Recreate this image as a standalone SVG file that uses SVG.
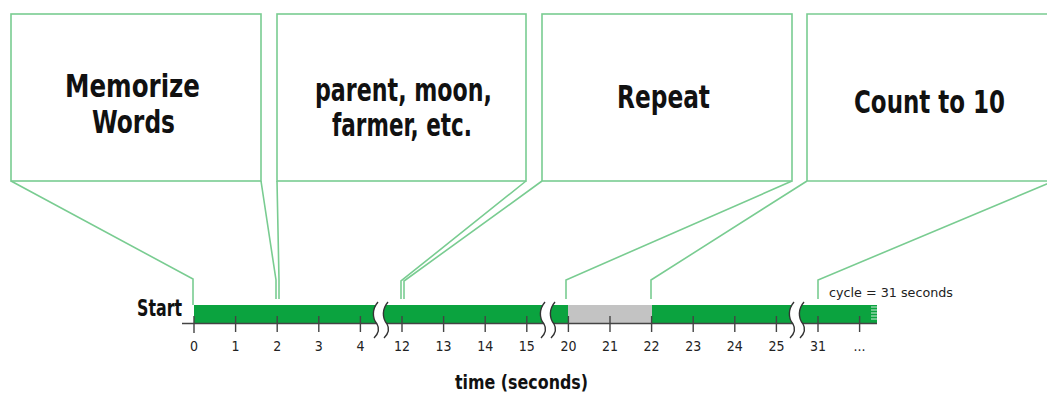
<svg xmlns="http://www.w3.org/2000/svg" width="1047" height="396" viewBox="0 0 1047 396">
<style>
.box{fill:#fff;stroke:#79cc91;stroke-width:1.6}
.co{fill:none;stroke:#79cc91;stroke-width:1.6;stroke-linejoin:miter}
.title{font-family:"Liberation Sans Narrow","DejaVu Sans Condensed","Liberation Sans",sans-serif;font-weight:bold;font-size:32px;fill:#111;text-anchor:start}
.num{font-family:"Liberation Sans Narrow","DejaVu Sans Condensed","Liberation Sans",sans-serif;font-size:14px;fill:#222;text-anchor:middle}
.tick{stroke:#444;stroke-width:1.4}
.brk{fill:none;stroke:#333;stroke-width:1.4}
</style>
<defs>
<g id="break">
<path d="M -2 302 C -8 309 -8 318 -3 324 C 0 329 -2 334 -6 338 L 4 338 C 8 334 10 329 7 324 C 2 318 2 309 8 302 Z" fill="#fff"/>
<path class="brk" d="M -2 302 C -8 309 -8 318 -3 324 C 0 329 -2 334 -6 338"/>
<path class="brk" d="M 8 302 C 2 309 2 318 7 324 C 10 329 8 334 4 338"/>
</g>
</defs>

<g id="connectors">
<polyline class="co" points="11,181 193,279 193,305"/>
<polyline class="co" points="261,181 276,280 276,299"/>
<polyline class="co" points="277,181 279,280 279,299"/>
<polyline class="co" points="526,181 401,281 401,299"/>
<polyline class="co" points="542,181 404,281 404,299"/>
<polyline class="co" points="792,181 566,280 566,299"/>
<polyline class="co" points="807,181 651,280 651,299"/>
<polyline class="co" points="1054,181 818,280 818,299"/>
</g>

<g id="box1">
<rect class="box" x="11" y="14" width="250" height="167"/>
<text class="title" x="65" y="97" textLength="135" lengthAdjust="spacingAndGlyphs">Memorize</text>
<text class="title" x="92" y="133" textLength="83" lengthAdjust="spacingAndGlyphs">Words</text>
</g>
<g id="box2">
<rect class="box" x="277" y="14" width="249" height="167"/>
<text class="title" x="315" y="101" textLength="177" lengthAdjust="spacingAndGlyphs">parent, moon,</text>
<text class="title" x="332" y="136" textLength="140" lengthAdjust="spacingAndGlyphs">farmer, etc.</text>
</g>
<g id="box3">
<rect class="box" x="542" y="14" width="250" height="167"/>
<text class="title" x="617" y="108" textLength="93" lengthAdjust="spacingAndGlyphs">Repeat</text>
</g>
<g id="box4">
<rect x="807" y="14" width="240" height="167" fill="#fff"/>
<path class="co" d="M 1047 14 H 807 V 181 H 1047"/>
<text class="title" x="854" y="113" textLength="151" lengthAdjust="spacingAndGlyphs">Count to 10</text>
</g>

<g id="timeline">
<rect x="194" y="305" width="683" height="18" fill="#0ba33f"/>
<rect x="568" y="305" width="84" height="18" fill="#c3c3c3"/>
<line x1="182" y1="323.5" x2="877" y2="323.5" stroke="#444" stroke-width="1.4"/>
<g stroke="#fff" stroke-width="0.8">
<line x1="871" y1="307" x2="877" y2="307"/>
<line x1="871" y1="310" x2="877" y2="310"/>
<line x1="871" y1="313" x2="877" y2="313"/>
<line x1="871" y1="316" x2="877" y2="316"/>
<line x1="871" y1="319" x2="877" y2="319"/>
</g>
<g class="tick">
<line x1="194" y1="316" x2="194" y2="333"/>
<line x1="235.6" y1="316" x2="235.6" y2="332"/>
<line x1="277.2" y1="316" x2="277.2" y2="332"/>
<line x1="318.8" y1="316" x2="318.8" y2="332"/>
<line x1="360.4" y1="316" x2="360.4" y2="332"/>
<line x1="402" y1="316" x2="402" y2="332"/>
<line x1="443.6" y1="316" x2="443.6" y2="332"/>
<line x1="485.2" y1="316" x2="485.2" y2="332"/>
<line x1="526.8" y1="316" x2="526.8" y2="332"/>
<line x1="568.4" y1="316" x2="568.4" y2="332"/>
<line x1="610" y1="316" x2="610" y2="332"/>
<line x1="651.6" y1="316" x2="651.6" y2="332"/>
<line x1="693.2" y1="316" x2="693.2" y2="332"/>
<line x1="734.8" y1="316" x2="734.8" y2="332"/>
<line x1="776.4" y1="316" x2="776.4" y2="332"/>
<line x1="818" y1="316" x2="818" y2="332"/>
<line x1="859.6" y1="316" x2="859.6" y2="332"/>
</g>
<use href="#break" transform="translate(380,0)"/>
<use href="#break" transform="translate(547,0)"/>
<use href="#break" transform="translate(796,0)"/>
<g class="num">
<text x="194" y="351">0</text>
<text x="235.6" y="351">1</text>
<text x="277.2" y="351">2</text>
<text x="318.8" y="351">3</text>
<text x="360.4" y="351">4</text>
<text x="402" y="351">12</text>
<text x="443.6" y="351">13</text>
<text x="485.2" y="351">14</text>
<text x="526.8" y="351">15</text>
<text x="568.4" y="351">20</text>
<text x="610" y="351">21</text>
<text x="651.6" y="351">22</text>
<text x="693.2" y="351">23</text>
<text x="734.8" y="351">24</text>
<text x="776.4" y="351">25</text>
<text x="818" y="351">31</text>
<text x="859.6" y="351">...</text>
</g>
<text x="137" y="316" textLength="45" lengthAdjust="spacingAndGlyphs" style="font-family:'Liberation Sans Narrow','DejaVu Sans Condensed','Liberation Sans',sans-serif;font-weight:bold;font-size:23px;fill:#111">Start</text>
<text x="455" y="389" textLength="133" lengthAdjust="spacingAndGlyphs" style="font-family:'Liberation Sans Narrow','DejaVu Sans Condensed','Liberation Sans',sans-serif;font-weight:bold;font-size:20px;fill:#111">time (seconds)</text>
<text x="829" y="297" textLength="124" lengthAdjust="spacingAndGlyphs" style="font-family:'Liberation Sans Narrow','DejaVu Sans Condensed','Liberation Sans',sans-serif;font-size:13px;fill:#222">cycle = 31 seconds</text>
</g>
</svg>
